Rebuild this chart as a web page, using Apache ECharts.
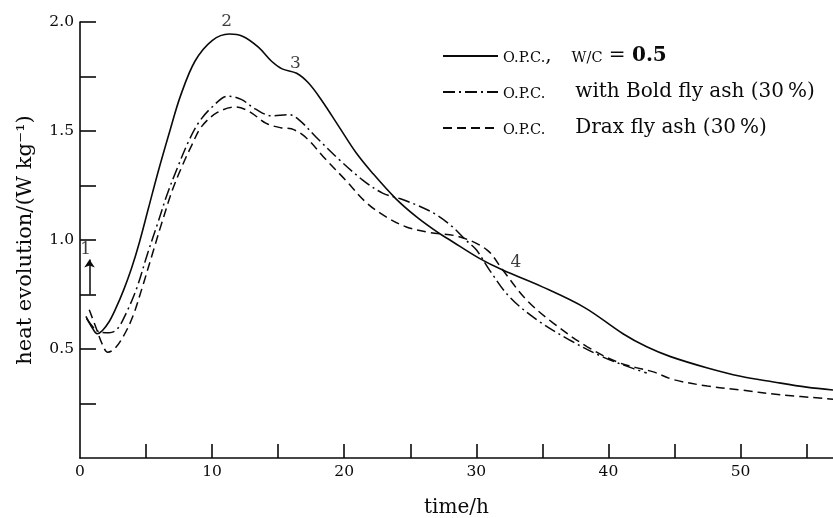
<!DOCTYPE html>
<html>
<head>
<meta charset="utf-8">
<script src="https://cdn.jsdelivr.net/npm/echarts@6/dist/echarts.min.js"></script>
<style>
html,body{margin:0;padding:0;background:#fff;}
#c{width:833px;height:518px;}
</style>
</head>
<body>
<div id="c"></div>
<script>
// ---- data ----
const xTicks = [5,10,15,20,25,30,35,40,45,50,55];
const xLabels = [0,10,20,30,40,50];
const yTicks = [0.25,0.5,0.75,1.0,1.25,1.5,1.75,2.0];
const yLabels = [0.5,1.0,1.5,2.0];

const opcSeries = [[0.45,0.65],[0.9,0.6],[1.3,0.57],[1.7,0.585],[2.2,0.625],[2.7,0.685],[3.3,0.77],[3.9,0.87],[4.5,0.99],[5.2,1.15],[5.9,1.31],[6.8,1.5],[7.6,1.66],[8.7,1.82],[10,1.915],[11.3,1.945],[12.3,1.935],[13.5,1.885],[14.5,1.82],[15.3,1.785],[16.4,1.765],[17.3,1.72],[18.3,1.64],[19.6,1.52],[20.9,1.40],[22.1,1.31],[23.9,1.19],[25.5,1.105],[27.2,1.03],[28.0,1.0],[30.2,0.917],[32,0.862],[35,0.785],[38.2,0.69],[41.1,0.57],[42.9,0.51],[44.7,0.465],[47.5,0.413],[50,0.375],[52.5,0.349],[55,0.325],[57,0.312]];

const boldSeries = [[0.5,0.64],[1.0,0.6],[1.5,0.578],[2.2,0.575],[2.8,0.59],[3.5,0.665],[4.3,0.78],[5.1,0.935],[5.9,1.08],[6.6,1.21],[7.4,1.335],[8.2,1.45],[9.0,1.54],[10.0,1.61],[11.2,1.66],[12.2,1.645],[13.3,1.60],[14.5,1.57],[15.8,1.575],[16.6,1.55],[17.9,1.47],[19.6,1.37],[21.4,1.275],[22.9,1.215],[24.2,1.19],[25.7,1.155],[27.0,1.115],[28.2,1.06],[29.2,1.0],[30,0.955],[31,0.862],[32.5,0.74],[34.6,0.633],[37.1,0.54],[39.6,0.463],[41.9,0.41],[42.9,0.39]];

const draxSeries = [[0.7,0.68],[1.2,0.6],[1.7,0.52],[2.1,0.485],[2.6,0.5],[3.3,0.56],[4.0,0.65],[4.7,0.78],[5.5,0.94],[6.2,1.08],[7.0,1.23],[7.7,1.335],[8.5,1.44],[9.2,1.52],[10.4,1.585],[11.8,1.61],[12.8,1.59],[14.1,1.535],[15.2,1.515],[16.0,1.51],[17.1,1.47],[18.6,1.37],[20.1,1.275],[21.7,1.17],[23.2,1.105],[24.7,1.06],[26.4,1.035],[28.7,1.015],[30.8,0.955],[32,0.862],[33.8,0.725],[35.8,0.62],[38.4,0.51],[40.9,0.435],[43.4,0.395],[44.9,0.36],[47.5,0.33],[50,0.312],[53,0.29],[57,0.27]];

const seriesNames = ['opc','bold','drax'];
const legendTexts = {
  opc: '{sc|O.P.C.}{t|,\u2003}{sc|W/C}{t| = }{b|0.5}',
  bold: '{sc|O.P.C.}{t|\u2003\u2002with Bold fly ash (30\u2009%)}',
  drax: '{sc|O.P.C.}{t|\u2003\u2002Drax fly ash (30\u2009%)}'
};
const annotLabels = ['1','2','3','4'];
const annotPoints = [[0.42,0.955],[11.1,2.0],[16.3,1.81],[33.0,0.895]];
const arrowFrom = [0.72,0.75];
const arrowTo = [0.72,0.91];

// ---- chart ----
const ink = '#0a0a0a';
const serif = '"DejaVu Serif", "Liberation Serif", serif';
const chart = echarts.init(document.getElementById('c'), null, {renderer:'canvas'});
const lineBase = {type:'line', showSymbol:false, symbol:'none', smooth:0.35, animation:false};
chart.setOption({
  animation:false,
  backgroundColor:'#fff',
  grid:{left:80, right:0, top:22, bottom:60, containLabel:false, outerBoundsMode:'none'},
  legend:{
    orient:'vertical', left:437, top:41,
    itemWidth:55, itemHeight:20, itemGap:16,
    data:seriesNames,
    itemStyle:{opacity:0},
    formatter: n => legendTexts[n],
    textStyle:{color:ink, fontFamily:serif, fontSize:20,
      rich:{
        sc:{fontFamily:serif, fontSize:14.5, color:ink, padding:[4,0,0,0]},
        t:{fontFamily:serif, fontSize:20, color:ink},
        b:{fontFamily:serif, fontSize:20, fontWeight:'bold', color:ink}
      }}
  },
  xAxis:{
    type:'value', min:0, max:57,
    name:'time/h', nameLocation:'middle', nameGap:40,
    nameTextStyle:{color:ink, fontFamily:serif, fontSize:20},
    axisLine:{lineStyle:{color:ink, width:1.6}},
    axisTick:{inside:true, length:14, lineStyle:{color:ink, width:1.6}, customValues:xTicks},
    axisLabel:{color:ink, fontFamily:serif, fontSize:15.5, margin:6, customValues:xLabels},
    splitLine:{show:false}
  },
  yAxis:{
    type:'value', min:0, max:2,
    name:'heat evolution/(W kg\u207B\u00B9)', nameLocation:'middle', nameGap:44,
    nameTextStyle:{color:ink, fontFamily:serif, fontSize:21},
    axisLine:{lineStyle:{color:ink, width:1.6}},
    axisTick:{inside:true, length:16, lineStyle:{color:ink, width:1.6}, customValues:yTicks},
    axisLabel:{color:ink, fontFamily:serif, fontSize:15.5, margin:6, customValues:yLabels,
      formatter: v => v.toFixed(1)},
    splitLine:{show:false}
  },
  series:[
    Object.assign({}, lineBase, {name:'opc', data:opcSeries,
      lineStyle:{color:ink, width:1.6, type:'solid'}, itemStyle:{color:ink}}),
    Object.assign({}, lineBase, {name:'bold', data:boldSeries,
      lineStyle:{color:ink, width:1.5, type:[12,4,2,4]}, itemStyle:{color:ink}}),
    Object.assign({}, lineBase, {name:'drax', data:draxSeries,
      lineStyle:{color:ink, width:1.5, type:[9,5]}, itemStyle:{color:ink}}),
    {
      type:'scatter', name:'annot', symbolSize:0, silent:true, animation:false,
      data: annotPoints.map((p,i)=>({value:p, name:annotLabels[i]})),
      label:{show:true, position:'inside', formatter:'{b}', color:ink, fontFamily:serif, fontSize:17},
      markLine:{
        silent:true, animation:false, symbol:['none','arrow'], symbolSize:8,
        lineStyle:{color:ink, width:1.5, type:'solid'},
        label:{show:false},
        data:[[{coord:arrowFrom},{coord:arrowTo}]]
      }
    }
  ]
});
</script>
</body>
</html>
